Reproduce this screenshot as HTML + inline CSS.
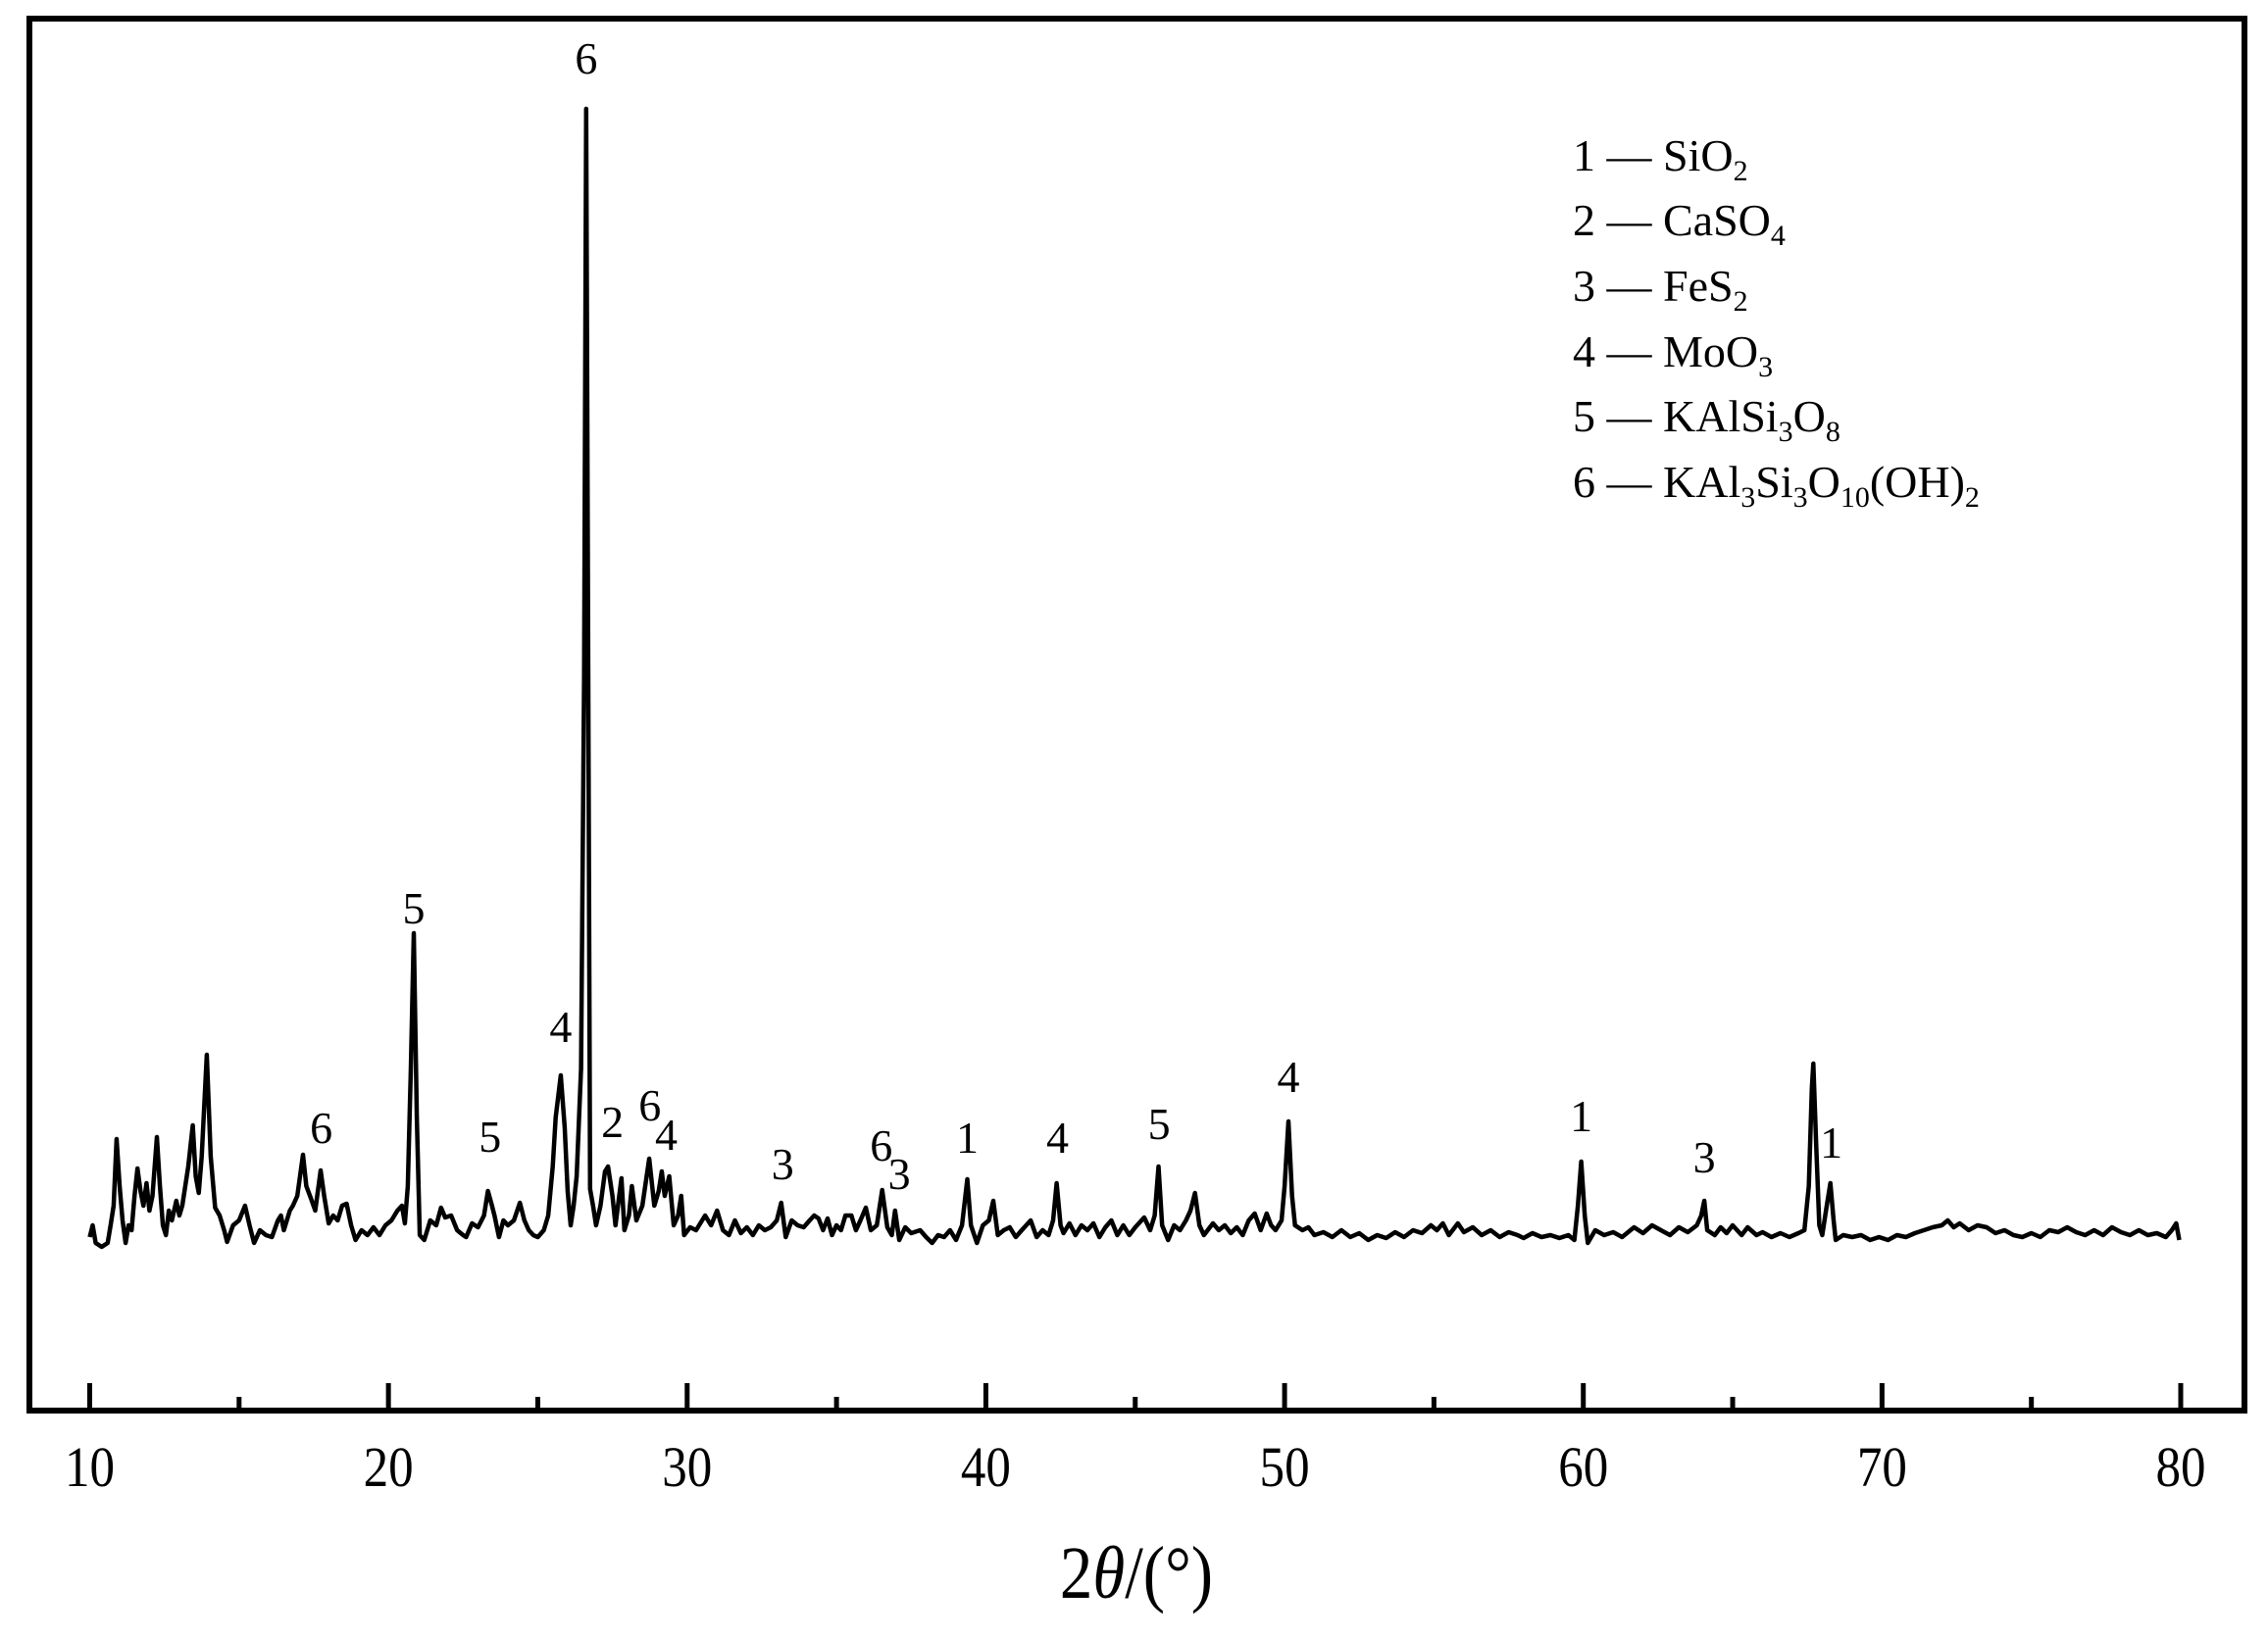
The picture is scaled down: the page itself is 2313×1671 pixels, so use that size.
<!DOCTYPE html>
<html><head><meta charset="utf-8"><style>
html,body{margin:0;padding:0;background:#fff;}
svg{display:block;}
text{font-family:"Liberation Serif","Times New Roman",serif;fill:#000;}
</style></head><body>
<svg id="chart" width="2313" height="1671" viewBox="0 0 2313 1671" xmlns="http://www.w3.org/2000/svg">
<rect x="30" y="19" width="2259" height="1420" fill="none" stroke="#000" stroke-width="6"/>
<g id="ticks"></g>
<g id="ticklabels"></g>
<path id="trace" fill="none" stroke="#000" stroke-width="4.5" stroke-linejoin="round"/>
<g id="peaklabels"></g>
<text transform="translate(1159,1630) scale(0.88,1)" font-size="76" text-anchor="middle">2<tspan font-style="italic">θ</tspan>/(°)</text>
<g font-size="46">
<text x="1604" y="174">1 — SiO<tspan font-size="30" dy="10">2</tspan></text>
<text x="1604" y="240">2 — CaSO<tspan font-size="30" dy="10">4</tspan></text>
<text x="1604" y="307">3 — FeS<tspan font-size="30" dy="10">2</tspan></text>
<text x="1604" y="374">4 — MoO<tspan font-size="30" dy="10">3</tspan></text>
<text x="1604" y="440">5 — KAlSi<tspan font-size="30" dy="10">3</tspan><tspan dy="-10">O</tspan><tspan font-size="30" dy="10">8</tspan></text>
<text x="1604" y="507">6 — KAl<tspan font-size="30" dy="10">3</tspan><tspan dy="-10">Si</tspan><tspan font-size="30" dy="10">3</tspan><tspan dy="-10">O</tspan><tspan font-size="30" dy="10">10</tspan><tspan dy="-10">(OH)</tspan><tspan font-size="30" dy="10">2</tspan></text>
</g>
</svg>
<script>
const twoTheta = [10.0,10.1,10.2,10.4,10.6,10.7,10.8,10.9,11.0,11.1,11.2,11.3,11.4,11.5,11.6,11.7,11.8,11.9,12.0,12.1,12.25,12.35,12.45,12.55,12.65,12.75,12.9,13.0,13.1,13.3,13.45,13.55,13.65,13.75,13.92,14.05,14.2,14.35,14.5,14.6,14.8,15.0,15.2,15.35,15.5,15.7,15.9,16.1,16.3,16.4,16.5,16.7,16.8,16.95,17.14,17.25,17.4,17.55,17.73,17.85,18.0,18.15,18.3,18.45,18.6,18.75,18.9,19.1,19.3,19.5,19.7,19.9,20.1,20.3,20.45,20.55,20.65,20.75,20.85,20.95,21.05,21.2,21.4,21.6,21.76,21.9,22.1,22.3,22.5,22.6,22.8,23.0,23.2,23.33,23.45,23.55,23.7,23.85,24.0,24.2,24.4,24.55,24.7,24.85,25.0,25.2,25.35,25.5,25.6,25.77,25.9,26.0,26.1,26.2,26.3,26.45,26.55,26.62,26.7,26.75,26.85,26.95,27.1,27.25,27.35,27.5,27.6,27.8,27.9,28.05,28.15,28.3,28.5,28.73,28.9,29.05,29.15,29.25,29.4,29.55,29.7,29.8,29.9,30.1,30.3,30.6,30.8,31.0,31.2,31.4,31.6,31.8,32.0,32.2,32.4,32.6,32.8,33.0,33.15,33.3,33.5,33.7,33.9,34.1,34.25,34.4,34.55,34.7,34.85,35.0,35.15,35.3,35.5,35.65,35.8,35.98,36.15,36.35,36.53,36.7,36.85,36.96,37.1,37.3,37.5,37.8,38.0,38.2,38.4,38.6,38.8,39.0,39.2,39.38,39.5,39.7,39.9,40.1,40.25,40.4,40.6,40.8,41.0,41.2,41.5,41.7,41.9,42.1,42.25,42.37,42.5,42.6,42.8,43.0,43.2,43.4,43.6,43.8,44.0,44.2,44.4,44.6,44.8,45.0,45.3,45.5,45.65,45.78,45.9,46.1,46.3,46.5,46.7,46.85,47.0,47.15,47.3,47.6,47.8,48.0,48.2,48.4,48.6,48.8,49.0,49.2,49.4,49.55,49.7,49.9,50.0,50.13,50.25,50.35,50.6,50.8,51.0,51.3,51.6,51.9,52.2,52.5,52.8,53.1,53.4,53.7,54.0,54.3,54.6,54.9,55.1,55.3,55.5,55.8,56.0,56.3,56.6,56.9,57.2,57.5,57.8,58.0,58.3,58.6,58.9,59.2,59.5,59.7,59.82,59.93,60.05,60.15,60.4,60.7,61.0,61.3,61.7,62.0,62.3,62.6,62.9,63.2,63.5,63.8,63.95,64.05,64.15,64.4,64.6,64.8,65.0,65.3,65.5,65.8,66.0,66.3,66.6,66.9,67.2,67.4,67.55,67.65,67.7,67.8,67.9,68.0,68.15,68.27,68.38,68.45,68.7,69.0,69.3,69.6,69.9,70.2,70.5,70.8,71.1,71.4,71.7,72.0,72.2,72.4,72.6,72.9,73.2,73.5,73.8,74.1,74.4,74.7,75.0,75.3,75.6,75.9,76.2,76.5,76.8,77.1,77.4,77.7,78.0,78.3,78.6,78.9,79.2,79.5,79.7,79.85,79.95];
const intensity = [28,40,22,18,22,40,60,128,80,45,22,40,35,70,98,75,60,83,55,70,130,80,40,30,55,45,65,50,60,100,142,90,73,110,214,110,58,50,35,23,40,45,60,40,22,35,30,28,45,50,35,55,60,70,112,80,68,55,96,70,42,50,45,60,62,40,25,35,30,38,30,40,45,55,60,42,80,200,338,150,30,25,45,40,58,48,50,35,30,28,42,38,50,75,62,50,28,45,40,45,63,45,35,30,28,35,50,100,150,193,140,75,40,60,90,200,600,1179,500,77,60,40,60,95,100,70,40,88,35,50,80,45,60,108,60,75,95,70,90,40,50,70,30,38,35,50,40,55,35,30,45,32,38,30,40,35,38,45,63,28,45,40,38,45,50,47,35,47,30,40,35,50,50,35,45,58,35,40,76,38,30,55,25,38,32,35,28,22,30,28,35,25,40,87,40,22,40,45,65,30,35,38,28,35,45,28,35,30,45,83,40,32,42,30,40,35,42,28,38,45,30,40,30,38,48,35,50,100,40,25,40,35,45,55,73,40,30,42,35,40,32,38,30,45,52,35,52,40,35,45,80,146,70,40,35,38,30,33,28,35,28,32,25,30,27,33,28,35,32,40,35,42,30,42,33,38,30,35,28,33,30,27,32,28,30,27,30,25,60,105,50,22,35,30,33,28,38,32,40,35,30,38,33,40,50,65,35,30,38,32,40,30,38,30,33,28,32,28,32,35,80,180,205,120,40,30,60,83,45,25,30,28,30,25,28,25,30,28,32,35,38,40,45,38,42,35,40,38,32,35,30,28,32,28,35,33,38,33,30,35,30,38,33,30,35,30,32,28,35,42,25];
const majorTicks = [10,20,30,40,50,60,70,80];
const minorTicks = [15,25,35,45,55,65,75];
const tickLabels = ["10","20","30","40","50","60","70","80"];
const peakLabelText = ["6","5","5","4","2","6","4","6","3","6","3","1","4","5","4","1","3","1"];
const peakLabelX = [26.62,20.85,23.4,25.77,27.5,28.75,29.3,17.75,33.2,36.5,37.1,39.38,42.4,45.8,50.13,59.93,64.05,68.3];
const peakLabelY = [1215,348,115,227,130,147,117,124,87,106,77,114,114,128,176,136,94,109];

const X0=91.5, X1=2224;
function xs(v){ return X0 + (v-10)*(X1-X0)/70; }
function ys(v){ return 1290 - v; }

let d='';
for(let i=0;i<twoTheta.length;i++){ d += (i?'L':'M') + xs(twoTheta[i]).toFixed(1) + ' ' + ys(intensity[i]).toFixed(1); }
document.getElementById('trace').setAttribute('d', d);

const NS='http://www.w3.org/2000/svg';
const tg=document.getElementById('ticks');
majorTicks.forEach(function(t){
  const l=document.createElementNS(NS,'line');
  
  
  l.setAttribute('x1',xs(t)); l.setAttribute('x2',xs(t)); l.setAttribute('y1',1439); l.setAttribute('y2',1411);
  l.setAttribute('stroke','#000'); l.setAttribute('stroke-width','5');
  tg.appendChild(l);
});
minorTicks.forEach(function(t){
  const l=document.createElementNS(NS,'line');
  
  
  l.setAttribute('x1',xs(t)); l.setAttribute('x2',xs(t)); l.setAttribute('y1',1439); l.setAttribute('y2',1425);
  l.setAttribute('stroke','#000'); l.setAttribute('stroke-width','5');
  tg.appendChild(l);
});
const tl=document.getElementById('ticklabels');
majorTicks.forEach(function(t,i){
  const e=document.createElementNS(NS,'text');
  
  
  e.setAttribute('transform','translate('+xs(t)+',1516) scale(0.88,1)');
  e.setAttribute('font-size','58'); e.setAttribute('text-anchor','middle');
  e.textContent=tickLabels[i];
  tl.appendChild(e);
});
const pl=document.getElementById('peaklabels');
peakLabelText.forEach(function(s,i){
  const e=document.createElementNS(NS,'text');
  
  
  e.setAttribute('x',xs(peakLabelX[i])); e.setAttribute('y',ys(peakLabelY[i]));
  e.setAttribute('font-size','46'); e.setAttribute('text-anchor','middle');
  e.textContent=s;
  pl.appendChild(e);
});
</script>
</body></html>
